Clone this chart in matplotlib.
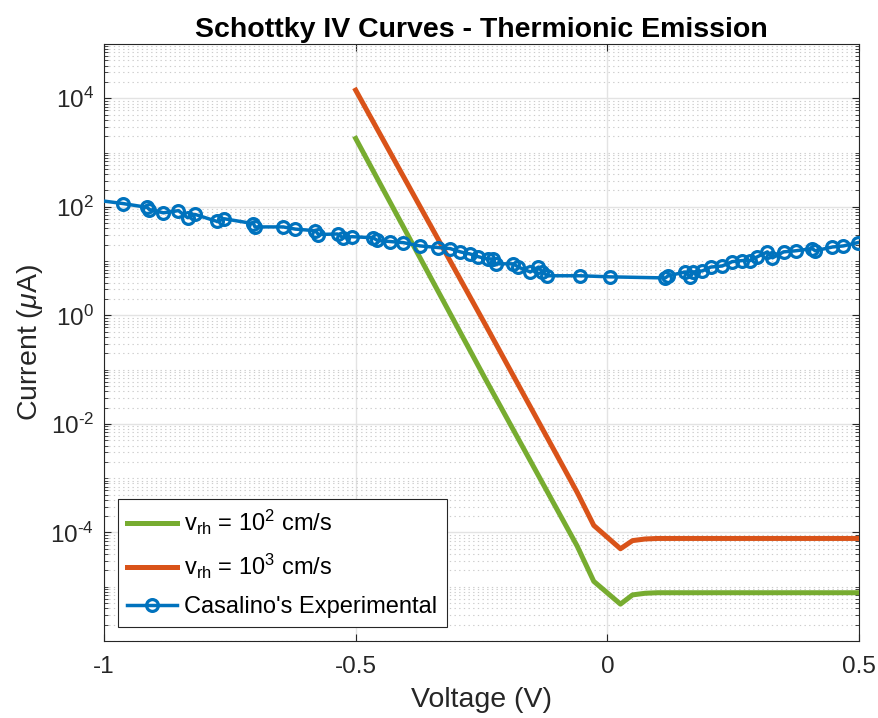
import numpy as np
import matplotlib
matplotlib.use("Agg")
import matplotlib.pyplot as plt
from matplotlib.ticker import FixedLocator, NullFormatter

plt.rcParams['font.family'] = ['Liberation Sans', 'DejaVu Sans']
plt.rcParams['mathtext.fontset'] = 'custom'
plt.rcParams['mathtext.rm'] = 'Liberation Sans'
plt.rcParams['mathtext.it'] = 'Liberation Sans:italic'
plt.rcParams['mathtext.bf'] = 'Liberation Sans:bold'
plt.rcParams['axes.unicode_minus'] = False

# ---- data ----
v_model = [-0.5, -0.243, -0.06, -0.027, 0.026, 0.05, 0.075, 0.1, 0.15, 0.5]
log_i_vrh2 = [3.26, -1.16, -4.25, -4.90, -5.32, -5.15, -5.12, -5.11, -5.11, -5.11]
log_i_vrh3 = [4.15, -0.16, -3.26, -3.87, -4.30, -4.15, -4.12, -4.11, -4.11, -4.11]

v_exp = [-1.02, -0.962, -0.914, -0.910, -0.882, -0.852, -0.834, -0.819, -0.775, -0.761,
         -0.703, -0.700, -0.644, -0.620, -0.580, -0.574, -0.536, -0.525, -0.507,
         -0.465, -0.457, -0.431, -0.405, -0.372, -0.336, -0.312, -0.292, -0.272,
         -0.256, -0.238, -0.228, -0.222, -0.187, -0.177, -0.153, -0.137, -0.129,
         -0.119, -0.054, 0.006, 0.115, 0.121, 0.155, 0.165, 0.171, 0.189, 0.205,
         0.228, 0.248, 0.268, 0.284, 0.298, 0.318, 0.328, 0.350, 0.374, 0.407,
         0.413, 0.447, 0.469, 0.497]
log_i_exp = [2.13, 2.06, 1.99, 1.95, 1.89, 1.93, 1.80, 1.86, 1.73, 1.78,
             1.69, 1.63, 1.63, 1.59, 1.56, 1.49, 1.50, 1.43, 1.45,
             1.43, 1.38, 1.36, 1.34, 1.28, 1.25, 1.23, 1.17, 1.13,
             1.08, 1.04, 1.04, 0.95, 0.95, 0.89, 0.80, 0.89, 0.80,
             0.73, 0.73, 0.71, 0.69, 0.73, 0.80, 0.71, 0.80, 0.82, 0.89,
             0.91, 0.99, 1.01, 1.01, 1.08, 1.17, 1.06, 1.17, 1.19, 1.23,
             1.19, 1.26, 1.28, 1.34]

x_ticks = [-1, -0.5, 0, 0.5]
x_ticklabels = ['-1', '-0.5', '0', '0.5']
y_ticks = [1e-4, 1e-2, 1e0, 1e2, 1e4]
y_ticklabels = [r'10$^{\text{-4}}$', r'10$^{\text{-2}}$', r'10$^{\mathregular{0}}$',
                r'10$^{\mathregular{2}}$', r'10$^{\mathregular{4}}$']

labels = [r'v$_{\mathregular{rh}}$ = 10$^{\mathregular{2}}$ cm/s',
          r'v$_{\mathregular{rh}}$ = 10$^{\mathregular{3}}$ cm/s',
          "Casalino's Experimental"]

c_green = '#77AC30'
c_orange = '#D95319'
c_blue = '#0072BD'
c_axis = '#262626'

fig = plt.figure(figsize=(8.79, 7.18), dpi=100)
ax = fig.add_axes([0.1183, 0.1072, 0.8590, 0.8315])

ax.semilogy(v_model, 10 ** np.array(log_i_vrh2), color=c_green, lw=3.6, label=labels[0], zorder=3)
ax.semilogy(v_model, 10 ** np.array(log_i_vrh3), color=c_orange, lw=3.6, label=labels[1], zorder=3)
ax.semilogy(v_exp, 10 ** np.array(log_i_exp), color=c_blue, lw=2.5, marker='o', ms=8.5,
            mfc='none', mew=2.3, label=labels[2], zorder=4)

ax.set_xlim(-1, 0.5)
ax.set_ylim(1e-6, 1e5)
ax.xaxis.set_major_locator(FixedLocator(x_ticks))
ax.set_xticklabels(x_ticklabels)
ax.yaxis.set_major_locator(FixedLocator(y_ticks))
ax.set_yticklabels(y_ticklabels)
minor = []
for k in range(-6, 5):
    for s in range(1, 10):
        val = s * 10.0 ** k
        if s == 1 and k in (-4, -2, 0, 2, 4):
            continue
        if 1e-6 <= val <= 1e5:
            minor.append(val)
ax.yaxis.set_minor_locator(FixedLocator(minor))
ax.yaxis.set_minor_formatter(NullFormatter())

ax.grid(True, which='major', color='#e3e3e3', lw=1.0, ls='-')
ax.grid(True, which='minor', axis='y', color='#cccccc', lw=0.8, ls=(0, (1.2, 3)))
ax.set_axisbelow(True)
ax.tick_params(which='both', direction='in', top=True, right=True, labelsize=17.5, colors=c_axis)
ax.tick_params(axis='x', which='major', pad=11)
ax.tick_params(axis='y', which='major', pad=7)
ax.tick_params(which='major', length=5)
ax.tick_params(which='minor', length=3)
for sp in ax.spines.values():
    sp.set_color(c_axis)
    sp.set_linewidth(0.8)

ax.set_xlabel('Voltage (V)', fontsize=20.5, color=c_axis, labelpad=6)
ax.set_ylabel(r'Current ($\mu$A)', fontsize=20.5, color=c_axis, labelpad=4)
ax.set_title('Schottky IV Curves - Thermionic Emission', fontsize=20.5, fontweight='bold', pad=5)

leg = ax.legend(loc='lower left', bbox_to_anchor=(0.0185, 0.023), borderaxespad=0,
                fontsize=17, frameon=True, fancybox=False, edgecolor=c_axis, framealpha=1,
                handlelength=2.1, borderpad=0.4, labelspacing=0.62, handletextpad=0.3)
leg.get_frame().set_linewidth(0.8)

fig.savefig('out.png', dpi=100)
